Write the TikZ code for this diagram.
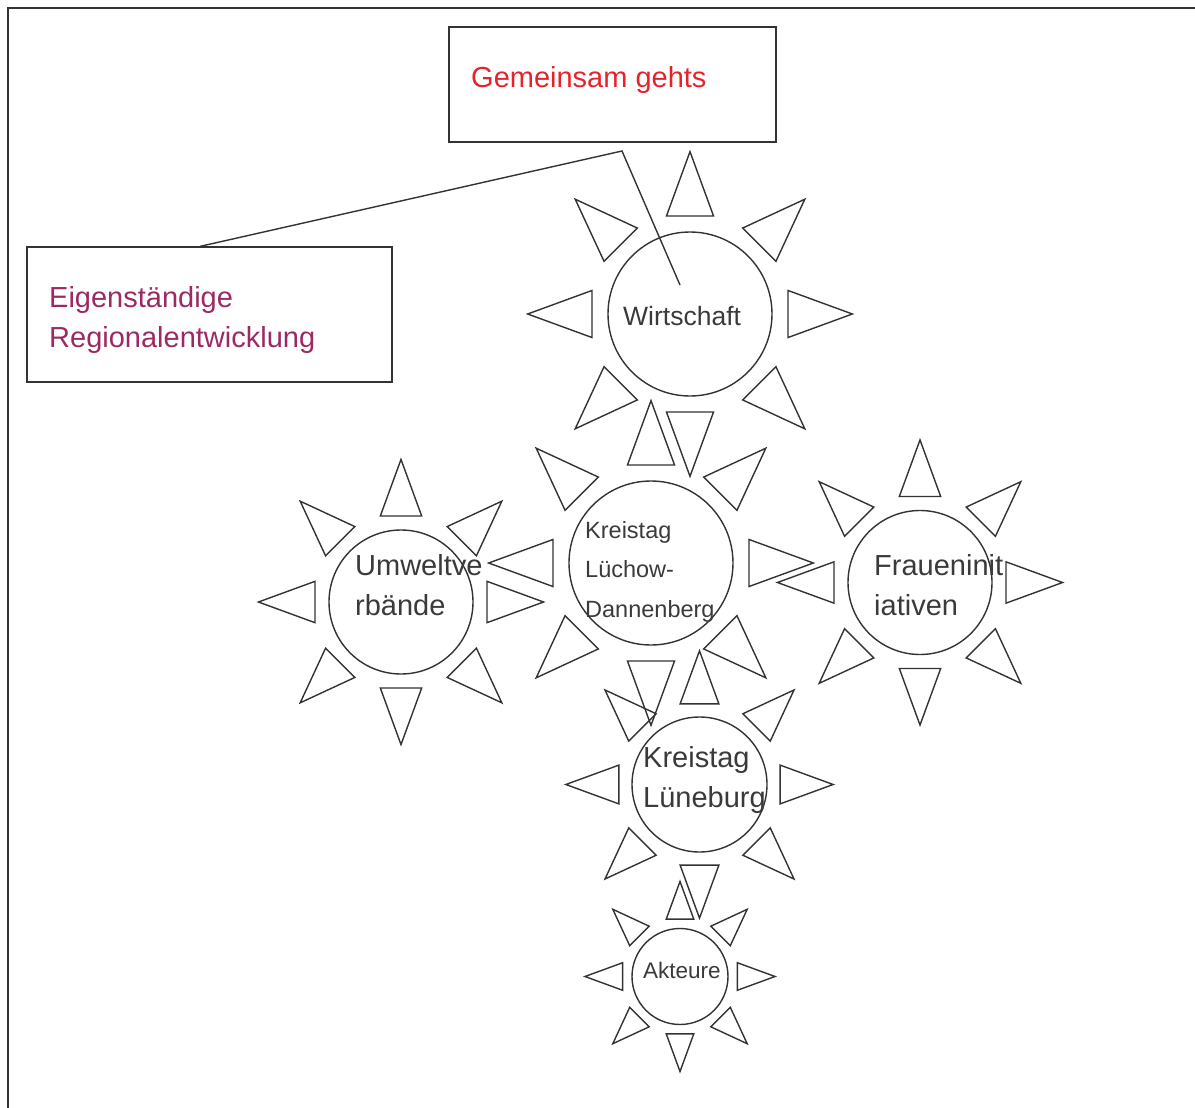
\documentclass[tikz,border=0pt]{standalone}
\usepackage{fontspec}
\setmainfont{Liberation Sans}
\usetikzlibrary{calc}
\definecolor{lineg}{HTML}{333333}
\definecolor{textg}{HTML}{3A3A3A}
\definecolor{redt}{HTML}{E6232A}
\definecolor{purt}{HTML}{9C2A62}
\tikzset{
  sunline/.style={draw=lineg, line width=1.4pt, line join=miter},
  sunc/.style={circle, draw=lineg, line width=1.4pt, inner sep=0pt},
  boxed/.style={draw=lineg, line width=1.4pt, inner sep=0pt},
  lbl/.style={anchor=base west, inner sep=0pt, text=textg},
}
\newcommand\drawsun[4]{%
  \node[sunc, minimum size={2*#4pt}] (#1) at (#2,#3) {};
  \foreach \ang in {0,45,...,315}{
    \begin{scope}[shift={(#2,#3)}, rotate=\ang]
      \draw[sunline] (1.195*#4,0.287*#4) -- (1.98*#4,0) -- (1.195*#4,-0.287*#4) -- cycle;
    \end{scope}
  }%
}
\begin{document}
\begin{tikzpicture}[x=1pt,y=-1pt]
\useasboundingbox (0,0) rectangle (1195,1108);
% frame
\draw[lineg, line width=1.4pt] (8,1108) -- (8,8) -- (1195,8);
% boxes
\node[boxed, minimum width=327pt, minimum height=115pt] (gem) at (612.5,84.5) {};
\node[anchor=base west, inner sep=0pt, text=redt, font=\fontsize{29}{29}\selectfont] (gemt) at (471,88) {Gemeinsam gehts};
\node[boxed, minimum width=365pt, minimum height=135pt] (eig) at (209.5,314.5) {};
\node[anchor=base west, inner sep=0pt, text=purt, font=\fontsize{29}{29}\selectfont] (eigt1) at (49,307) {Eigenständige};
\node[anchor=base west, inner sep=0pt, text=purt, font=\fontsize{29}{29}\selectfont] (eigt2) at (49,347) {Regionalentwicklung};
% suns
\drawsun{wi}{690}{314}{82}
\drawsun{kl}{651}{563}{82}
\drawsun{uw}{401}{602}{72}
\drawsun{fr}{920}{582.5}{72}
\drawsun{lg}{699.5}{784.5}{67.5}
\drawsun{ak}{680}{976.5}{48}
% connector
\coordinate (eigtop) at ($(eig.north west)!0.475!(eig.north east)$);
\coordinate (junc) at (622,151);
\coordinate (wend) at (680,285);
\draw[lineg, line width=1.4pt] (eigtop) -- (junc) -- (wend);
% labels
\node[lbl, font=\fontsize{26.5}{26.5}\selectfont] (wit) at (623,325) {Wirtschaft};
\node[lbl, font=\fontsize{23.5}{23.5}\selectfont] (klt1) at (585,538) {Kreistag};
\node[lbl, font=\fontsize{23.5}{23.5}\selectfont] (klt2) at (585,577.5) {Lüchow-};
\node[lbl, font=\fontsize{23.5}{23.5}\selectfont] (klt3) at (585,617) {Dannenberg};
\node[lbl, font=\fontsize{29}{29}\selectfont] (uwt1) at (355,575) {Umweltve};
\node[lbl, font=\fontsize{29}{29}\selectfont] (uwt2) at (355,615) {rbände};
\node[lbl, font=\fontsize{29}{29}\selectfont] (frt1) at (874,575) {Fraueninit};
\node[lbl, font=\fontsize{29}{29}\selectfont] (frt2) at (874,615) {iativen};
\node[lbl, font=\fontsize{29}{29}\selectfont] (lgt1) at (643,767) {Kreistag};
\node[lbl, font=\fontsize{29}{29}\selectfont] (lgt2) at (643,807) {Lüneburg};
\node[lbl, font=\fontsize{22.5}{22.5}\selectfont] (akt) at (643,978) {Akteure};
\end{tikzpicture}
\end{document}
